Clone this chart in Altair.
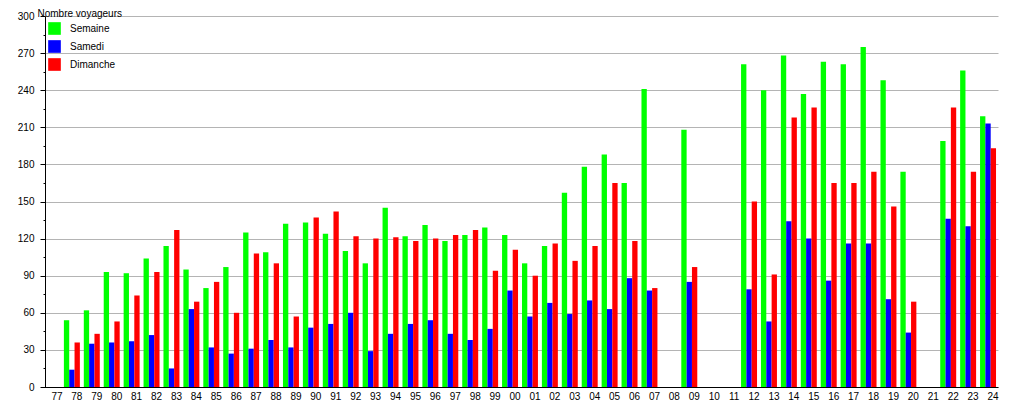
import altair as alt
import pandas as pd

years = ["77", "78", "79", "80", "81", "82", "83", "84", "85", "86", "87", "88",
         "89", "90", "91", "92", "93", "94", "95", "96", "97", "98", "99", "00",
         "01", "02", "03", "04", "05", "06", "07", "08", "09", "10", "11", "12",
         "13", "14", "15", "16", "17", "18", "19", "20", "21", "22", "23", "24"]

semaine = [None, 54, 62, 93, 92, 104, 114, 95, 80, 97, 125, 109,
           132, 133, 124, 110, 100, 145, 122, 131, 118, 123, 129, 123,
           100, 114, 157, 178, 188, 165, 241, None, 208, None, None, 261,
           240, 268, 237, 263, 261, 275, 248, 174, None, 199, 256, 219]

samedi = [None, 14, 35, 36, 37, 42, 15, 63, 32, 27, 31, 38,
          32, 48, 51, 60, 29, 43, 51, 54, 43, 38, 47, 78,
          57, 68, 59, 70, 63, 88, 78, None, 85, None, None, 79,
          53, 134, 120, 86, 116, 116, 71, 44, None, 136, 130, 213]

dimanche = [None, 36, 43, 53, 74, 93, 127, 69, 85, 60, 108, 100,
            57, 137, 142, 122, 120, 121, 118, 120, 123, 127, 94, 111,
            90, 116, 102, 114, 165, 118, 80, None, 97, None, None, 150,
            91, 218, 226, 165, 165, 174, 146, 69, None, 226, 174, 193]

series_names = ["Semaine", "Samedi", "Dimanche"]
series_colors = ["#00ff00", "#0000ff", "#ff0000"]

rows = []
for i, y in enumerate(years):
    for k, (name, vals) in enumerate(zip(series_names, [semaine, samedi, dimanche])):
        v = vals[i]
        if v is not None:
            rows.append({"annee": y, "serie": name, "ordre": k, "voyageurs": v})
df = pd.DataFrame(rows)

FONT = "Liberation Sans"

chart = alt.Chart(df).mark_bar().encode(
    x=alt.X("annee:N", sort=years,
            scale=alt.Scale(domain=years, range=[-3, 953], paddingInner=0, paddingOuter=0),
            axis=alt.Axis(title=None, labelAngle=0, ticks=False, grid=False,
                          domainColor="#000000", labelColor="#000000",
                          labelFontSize=10, labelPadding=4, labelOffset=5)),
    xOffset=alt.XOffset("serie:N", sort=series_names,
                        scale=alt.Scale(paddingInner=0, paddingOuter=0.37)),
    y=alt.Y("voyageurs:Q",
            scale=alt.Scale(domain=[0, 300], nice=False),
            axis=alt.Axis(values=list(range(0, 301, 15)),
                          labelExpr="datum.value % 30 === 0 ? datum.label : ''",
                          gridOpacity={"condition": {"test": "datum.value % 30 === 0", "value": 1}, "value": 0},
                          tickSize={"condition": {"test": "datum.value % 30 === 0", "value": 5}, "value": 2},
                          gridColor="#b4b4b4", domainColor="#000000", tickColor="#000000",
                          labelColor="#000000", labelFontSize=10, labelPadding=6,
                          title="Nombre voyageurs", titleAngle=0, titleAlign="left",
                          titleBaseline="top", titleX=-8, titleY=-8,
                          titleFontWeight="normal", titleFontSize=10, titleColor="#000000")),
    color=alt.Color("serie:N", sort=series_names,
                    scale=alt.Scale(domain=series_names, range=series_colors),
                    legend=alt.Legend(orient="none", legendX=3, legendY=6, title=None,
                                      symbolType="square", symbolSize=160,
                                      symbolStrokeWidth=0, symbolOpacity=1,
                                      labelFontSize=10, labelColor="#000000",
                                      labelOffset=9, rowPadding=5, padding=0)),
).properties(
    width=951, height=371,
    autosize=alt.AutoSizeParams(type="none"),
    padding={"left": 37, "top": 8, "right": 10, "bottom": 13},
).configure(font=FONT).configure_view(stroke=None)

chart.save("out.html", embed_options={"renderer": "svg", "actions": False})
